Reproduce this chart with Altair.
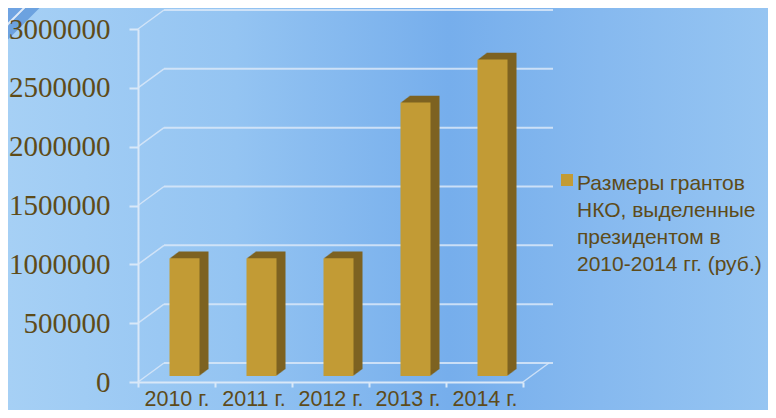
import altair as alt
import pandas as pd

YEARS = ["2010 г.", "2011 г.", "2012 г.", "2013 г.", "2014 г."]
VALUES = [1000000, 1000000, 1000000, 2325000, 2690000]
TICKS = [0, 500000, 1000000, 1500000, 2000000, 2500000, 3000000]
LEGEND_LINES = ["Размеры грантов", "НКО, выделенные", "президентом в", "2010-2014 гг. (руб.)"]

TEXT = "#5e4b19"
FRONT = "#c29b35"
SIDE = "#7d6221"
LINE = "#d9e8f8"

W, H = 385, 353
DX, DY = 26, -19

bars = pd.DataFrame({"year": YEARS, "value": VALUES})
grid = pd.DataFrame({"v": TICKS})
legend = pd.DataFrame({"label": ["\n".join(LEGEND_LINES)]})
one = pd.DataFrame({"k": [0]})

xs = alt.Scale(domain=YEARS, paddingInner=0, paddingOuter=0)
ys = alt.Scale(domain=[0, 3000000], nice=False, zero=True)

AX_X = alt.Axis(labelAngle=0, tickBand="extent", tickSize=5, labelPadding=1,
                labelFont="Liberation Sans", labelFontSize=21.5, labelColor=TEXT,
                domainColor=LINE, domainWidth=2, tickColor=LINE, tickWidth=2,
                labelBaseline="top", title=None, grid=False, zindex=1)
AX_Y = alt.Axis(values=TICKS, format="d", grid=False, tickSize=9, labelPadding=19,
                labelFont="Liberation Serif", labelFontSize=29, labelColor=TEXT,
                domainColor=LINE, domainWidth=2, tickColor=LINE, tickWidth=2, title=None,
                zindex=1)

bg = alt.Chart(one).mark_rect(
    color=alt.Gradient(
        gradient="linear",
        stops=[
            alt.GradientStop(color="#a6d0f5", offset=0),
            alt.GradientStop(color="#94c4f2", offset=0.3),
            alt.GradientStop(color="#76aeec", offset=0.58),
            alt.GradientStop(color="#86b9ef", offset=0.78),
            alt.GradientStop(color="#96c5f2", offset=1),
        ],
        x1=0, x2=1, y1=0, y2=0,
    )
).encode(x=alt.value(-130), x2=alt.value(630), y=alt.value(-21), y2=alt.value(381))

# decorative swoosh in the top-left corner
sw1 = alt.Chart(one).mark_rule(color="#6fa3e2", strokeWidth=24).encode(
    x=alt.value(-140), y=alt.value(-10), x2=alt.value(-119), y2=alt.value(-31))
sw2 = alt.Chart(one).mark_rule(color="#5a93d8", strokeWidth=12, opacity=0.75).encode(
    x=alt.value(-140), y=alt.value(12), x2=alt.value(-97), y2=alt.value(-31))
sw3 = alt.Chart(one).mark_rule(color="#ffffff", strokeWidth=2, opacity=0.8).encode(
    x=alt.value(-140), y=alt.value(5), x2=alt.value(-104), y2=alt.value(-31))

back = alt.Chart(grid).mark_rule(color=LINE, strokeWidth=2, opacity=0.85, yOffset=DY).encode(
    y=alt.Y("v:Q", scale=ys, axis=AX_Y),
    x=alt.value(DX), x2=alt.value(W + DX + 4),
)
diag = alt.Chart(grid).mark_rule(color=LINE, strokeWidth=1.5, opacity=0.85, y2Offset=DY).encode(
    y=alt.Y("v:Q", scale=ys, axis=AX_Y), y2="v:Q",
    x=alt.value(0), x2=alt.value(DX),
)
rdiag = alt.Chart(one).mark_rule(color=LINE, strokeWidth=1.5, opacity=0.85, y2Offset=DY).encode(
    y=alt.Y(datum=0, scale=ys, axis=AX_Y), y2=alt.Y2(datum=0),
    x=alt.value(W), x2=alt.value(W + DX),
)

layers = [bg, sw1, sw2, sw3, back, diag, rdiag]
BW = 30
BX = 8
BY = -6
for i in range(1, 10):
    layers.append(
        alt.Chart(bars).mark_bar(
            size=BW, color=SIDE, xOffset=BX + i, x2Offset=BX + i,
            yOffset=BY - i * 0.75, y2Offset=BY - i * 0.75,
        ).encode(
            x=alt.X("year:N", scale=xs, axis=AX_X, sort=YEARS),
            y=alt.Y("value:Q", scale=ys, axis=AX_Y),
            y2=alt.Y2(datum=0),
        )
    )

front = alt.Chart(bars).mark_bar(
    size=BW, color=FRONT, xOffset=BX, x2Offset=BX, yOffset=BY, y2Offset=BY
).encode(
    x=alt.X("year:N", scale=xs, sort=YEARS, axis=AX_X),
    y=alt.Y("value:Q", scale=ys, axis=AX_Y),
    y2=alt.Y2(datum=0),
)
layers.append(front)

sq = alt.Chart(one).mark_square(size=144, color=FRONT, opacity=1).encode(
    x=alt.value(429), y=alt.value(151)
)
txt = alt.Chart(legend).mark_text(
    align="left", baseline="alphabetic", lineBreak="\n", lineHeight=27,
    font="Liberation Sans", fontSize=21, color=TEXT,
).encode(text="label:N", x=alt.value(439), y=alt.value(161))
layers += [sq, txt]

chart = alt.layer(*layers).properties(
    width=W, height=H,
    padding={"left": 130, "top": 21, "right": 245, "bottom": 28},
    autosize=alt.AutoSizeParams(type="none"),
    background="#8fc0f0",
).configure_view(strokeWidth=0)

chart.save("out.html", embed_options={"renderer": "svg", "actions": False})
